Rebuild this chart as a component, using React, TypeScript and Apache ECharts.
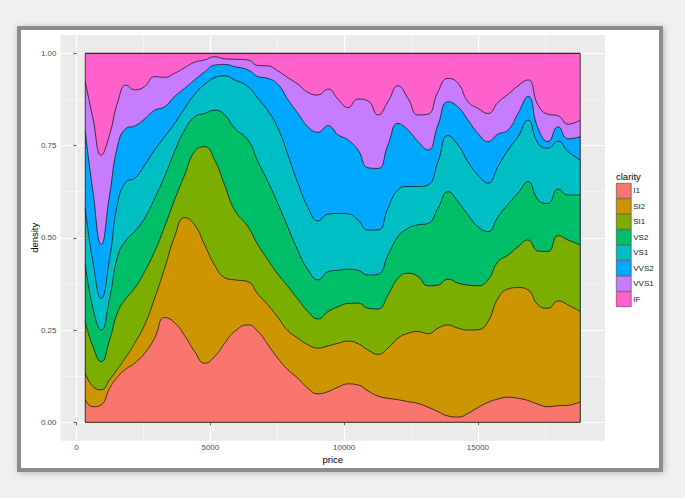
import React, { useEffect, useRef } from "react";
import * as echarts from "echarts";

const FONT = '"Liberation Sans", Arial, Helvetica, sans-serif';

const clarity = ["I1", "SI2", "SI1", "VS2", "VS1", "VVS2", "VVS1", "IF"];
const clarityColors = ["#F8766D", "#CD9600", "#7CAE00", "#00BE67", "#00BFC4", "#00A9FF", "#C77CFF", "#FF61CC"];

const price = [
  326, 613, 924, 1236, 1547, 1859, 2170, 2544, 2918, 3291, 3665, 4039, 4413, 4787, 5160, 5534, 5908,
  6406, 6780, 7154, 7527, 7901, 8275, 8649, 9023, 9396, 9770, 10144, 10518, 10892, 11265, 11639, 12013, 12387,
  12759, 13133, 13507, 13880, 14254, 14628, 15002, 15376, 15749, 16123, 16497, 16871, 17245, 17618, 17992, 18366, 18823,
];

// cumulative density share at the top of each clarity band (position = "fill")
const topI1 = [
  0.061, 0.042, 0.047, 0.092, 0.124, 0.145, 0.160, 0.187, 0.228, 0.284, 0.270, 0.235, 0.192, 0.160, 0.178, 0.214, 0.246,
  0.264, 0.246, 0.210, 0.173, 0.142, 0.119, 0.092, 0.077, 0.083, 0.095, 0.104, 0.101, 0.085, 0.071, 0.065, 0.061, 0.056,
  0.051, 0.041, 0.029, 0.017, 0.014, 0.024, 0.040, 0.054, 0.063, 0.068, 0.065, 0.059, 0.049, 0.042, 0.045, 0.046, 0.056,
];
const topSI2 = [
  0.133, 0.097, 0.088, 0.115, 0.146, 0.178, 0.214, 0.264, 0.336, 0.417, 0.503, 0.555, 0.535, 0.481, 0.426, 0.392, 0.386,
  0.381, 0.347, 0.318, 0.284, 0.248, 0.228, 0.210, 0.201, 0.207, 0.214, 0.220, 0.213, 0.196, 0.184, 0.201, 0.228, 0.241,
  0.246, 0.240, 0.255, 0.264, 0.255, 0.250, 0.251, 0.273, 0.336, 0.361, 0.365, 0.359, 0.318, 0.309, 0.329, 0.318, 0.300,
];
const topSI1 = [
  0.273, 0.205, 0.164, 0.223, 0.300, 0.336, 0.363, 0.408, 0.463, 0.530, 0.603, 0.670, 0.734, 0.747, 0.711, 0.643, 0.575,
  0.530, 0.481, 0.440, 0.401, 0.368, 0.333, 0.300, 0.280, 0.300, 0.313, 0.322, 0.323, 0.309, 0.307, 0.345, 0.390, 0.404,
  0.395, 0.370, 0.372, 0.388, 0.377, 0.372, 0.370, 0.386, 0.435, 0.453, 0.476, 0.494, 0.464, 0.463, 0.506, 0.494, 0.481,
];
const topVS2 = [
  0.431, 0.309, 0.250, 0.336, 0.453, 0.494, 0.517, 0.553, 0.607, 0.666, 0.734, 0.792, 0.828, 0.837, 0.846, 0.833, 0.797,
  0.765, 0.706, 0.652, 0.592, 0.528, 0.465, 0.413, 0.386, 0.408, 0.412, 0.415, 0.412, 0.399, 0.401, 0.453, 0.503, 0.526,
  0.535, 0.539, 0.580, 0.625, 0.598, 0.562, 0.530, 0.517, 0.557, 0.591, 0.621, 0.652, 0.603, 0.593, 0.632, 0.616, 0.616,
];
const topVS1 = [
  0.580, 0.435, 0.336, 0.444, 0.598, 0.652, 0.661, 0.697, 0.738, 0.774, 0.810, 0.851, 0.889, 0.916, 0.934, 0.939, 0.928,
  0.910, 0.878, 0.844, 0.797, 0.724, 0.648, 0.582, 0.546, 0.564, 0.566, 0.565, 0.548, 0.521, 0.521, 0.580, 0.630, 0.639,
  0.639, 0.643, 0.706, 0.777, 0.752, 0.706, 0.670, 0.648, 0.693, 0.738, 0.774, 0.819, 0.756, 0.743, 0.762, 0.734, 0.711,
];
const topVVS2 = [
  0.788, 0.625, 0.482, 0.616, 0.752, 0.797, 0.803, 0.822, 0.846, 0.855, 0.883, 0.905, 0.928, 0.950, 0.968, 0.970, 0.964,
  0.955, 0.937, 0.932, 0.916, 0.874, 0.837, 0.801, 0.786, 0.804, 0.779, 0.765, 0.738, 0.690, 0.688, 0.752, 0.810, 0.792,
  0.761, 0.738, 0.806, 0.869, 0.855, 0.819, 0.783, 0.761, 0.781, 0.792, 0.837, 0.883, 0.797, 0.761, 0.801, 0.768, 0.774,
];
const topVVS1 = [
  0.923, 0.824, 0.724, 0.780, 0.870, 0.914, 0.901, 0.910, 0.937, 0.935, 0.946, 0.961, 0.976, 0.982, 0.991, 0.985, 0.984,
  0.982, 0.967, 0.966, 0.952, 0.934, 0.916, 0.894, 0.887, 0.903, 0.876, 0.853, 0.876, 0.871, 0.833, 0.869, 0.912, 0.878,
  0.833, 0.835, 0.896, 0.932, 0.919, 0.869, 0.851, 0.837, 0.867, 0.889, 0.912, 0.928, 0.860, 0.835, 0.831, 0.808, 0.819,
];
const topIF = price.map(() => 1);

const priceMin = 326;
const priceMax = 18823;
const xTicks = [0, 5000, 10000, 15000];
const xMinorTicks = [2500, 7500, 12500, 17500];
const yTicks = [0, 0.25, 0.5, 0.75, 1];
const yMinorTicks = [0.125, 0.375, 0.625, 0.875];

export default function App() {
  const ref = useRef<HTMLDivElement>(null);

  useEffect(() => {
    const chart = echarts.init(ref.current as HTMLDivElement, null, { renderer: "svg" });
    const bounds = [topI1, topSI2, topSI1, topVS2, topVS1, topVVS2, topVVS1, topIF];
    const xPad = (priceMax - priceMin) * 0.05;
    const xMin = priceMin - xPad;
    const xMax = priceMax + xPad;
    const yMin = -0.05;
    const yMax = 1.05;

    const bandSeries: any[] = clarity
      .map((name, i) => ({
        name,
        type: "line",
        xAxisIndex: 0,
        yAxisIndex: 0,
        smooth: 0.5,
        symbol: "none",
        silent: true,
        color: clarityColors[i],
        itemStyle: { color: clarityColors[i] },
        data: price.map((p, j) => [p, bounds[i][j]]),
        areaStyle: { color: clarityColors[i], opacity: 1 },
        lineStyle: { color: "#1a1a1a", width: 0.8 },
        z: 2,
      }))
      .reverse();

    const outline = {
      name: "outline",
      type: "line",
      xAxisIndex: 0,
      yAxisIndex: 0,
      symbol: "none",
      silent: true,
      data: [
        [priceMin, 0],
        [priceMin, 1],
        [priceMax, 1],
        [priceMax, 0],
        [priceMin, 0],
      ],
      lineStyle: { color: "#1a1a1a", width: 0.8 },
      z: 3,
    };

    const labelStyle = { fontSize: 8, color: "#4d4d4d", fontFamily: FONT };

    chart.setOption({
      animation: false,
      backgroundColor: "#f0f0f0",
      graphic: [
        {
          type: "rect",
          shape: { x: 19, y: 28, width: 642, height: 442 },
          style: {
            fill: "#ffffff",
            stroke: "#8c8c8c",
            lineWidth: 4,
            shadowBlur: 6,
            shadowColor: "rgba(0,0,0,0.25)",
            shadowOffsetX: 1,
            shadowOffsetY: 1,
          },
          z: -10,
          silent: true,
        },
      ],
      title: {
        text: "clarity",
        left: 616,
        top: 171,
        padding: 0,
        textStyle: { fontSize: 9.5, fontWeight: "normal", color: "#000", fontFamily: FONT },
      },
      legend: {
        data: clarity.map((name) => ({ name, icon: "rect" })),
        orient: "vertical",
        left: 616,
        top: 183,
        padding: 0,
        itemWidth: 15,
        itemHeight: 15,
        itemGap: 0,
        selectedMode: false,
        itemStyle: { borderColor: "#333333", borderWidth: 0.5 },
        textStyle: { fontSize: 8, color: "#1a1a1a", fontFamily: FONT, padding: [0, 0, 0, -3] },
      },
      grid: {
        left: 60.5,
        right: 80,
        top: 34.9,
        bottom: 57.3,
        show: true,
        backgroundColor: "#ebebeb",
        borderWidth: 0,
        containLabel: false,
      },
      xAxis: [
        {
          type: "value",
          min: xMin,
          max: xMax,
          position: "bottom",
          name: "price",
          nameLocation: "middle",
          nameGap: 14,
          nameMoveOverlap: false,
          nameTextStyle: { fontSize: 9.5, color: "#000", fontFamily: FONT },
          axisLine: { show: false },
          axisTick: { show: true, length: 3, lineStyle: { color: "#333", width: 0.8 }, customValues: xTicks },
          axisLabel: { ...labelStyle, margin: 3, customValues: xTicks, formatter: (v: number) => String(v) },
          splitLine: { show: true, lineStyle: { color: "#ffffff", width: 1.2 } },
        },
        {
          type: "value",
          min: xMin,
          max: xMax,
          position: "bottom",
          axisLine: { show: false },
          axisTick: { show: false, customValues: xMinorTicks },
          axisLabel: { show: false },
          splitLine: { show: true, lineStyle: { color: "#ffffff", width: 0.5 } },
        },
      ],
      yAxis: [
        {
          type: "value",
          min: yMin,
          max: yMax,
          position: "left",
          name: "density",
          nameLocation: "middle",
          nameGap: 21,
          nameMoveOverlap: false,
          nameRotate: 90,
          nameTextStyle: { fontSize: 9.5, color: "#000", fontFamily: FONT },
          axisLine: { show: false },
          axisTick: { show: true, length: 3, lineStyle: { color: "#333", width: 0.8 }, customValues: yTicks },
          axisLabel: { ...labelStyle, margin: 4, customValues: yTicks, formatter: (v: number) => v.toFixed(2) },
          splitLine: { show: true, lineStyle: { color: "#ffffff", width: 1.2 } },
        },
        {
          type: "value",
          min: yMin,
          max: yMax,
          position: "left",
          axisLine: { show: false },
          axisTick: { show: false, customValues: yMinorTicks },
          axisLabel: { show: false },
          splitLine: { show: true, lineStyle: { color: "#ffffff", width: 0.5 } },
        },
      ],
      series: [...bandSeries, outline],
    });

    return () => {
      chart.dispose();
    };
  }, []);

  return (
    <div
      ref={ref}
      style={{ position: "fixed", left: 0, top: 0, width: 685, height: 498 }}
    />
  );
}
